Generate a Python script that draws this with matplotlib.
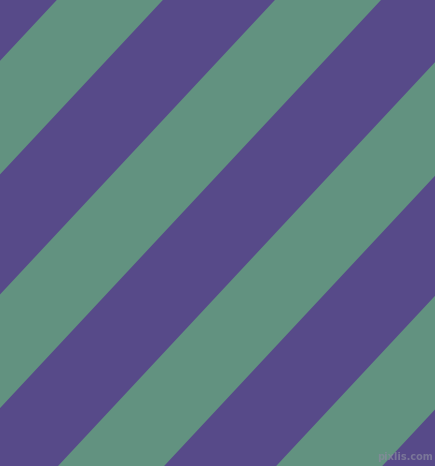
import matplotlib
matplotlib.use('Agg')
import matplotlib.pyplot as plt

# Stripe data (pixel units, y grows downward)
green_left_top = [-161, 57, 275, 493, 711]   # x where each green stripe starts on the top row
green_width = 106                            # horizontal width of a green stripe
slope = 0.9335                               # x shift per pixel of y
img_w, img_h = 435, 466

purple = '#574a89'
green = '#629280'

fig = plt.figure(figsize=(4.353, 4.663), dpi=100)
ax = fig.add_axes([0, 0, 1, 1])
ax.set_facecolor(purple)
fig.patch.set_facecolor(purple)

for x0 in green_left_top:
    x1 = x0 + green_width
    shift = slope * img_h
    xs = [x0, x1, x1 - shift, x0 - shift]
    ys = [0, 0, img_h, img_h]
    ax.fill(xs, ys, color=green, linewidth=0, antialiased=True)

# watermark
ax.text(433, 462, 'pixlis.com', ha='right', va='bottom', fontsize=7,
        fontweight='bold', color='#8a8aa0', alpha=0.7)

ax.set_xlim(0, img_w)
ax.set_ylim(img_h, 0)
ax.axis('off')

fig.savefig('out.png', dpi=100, facecolor=purple)
